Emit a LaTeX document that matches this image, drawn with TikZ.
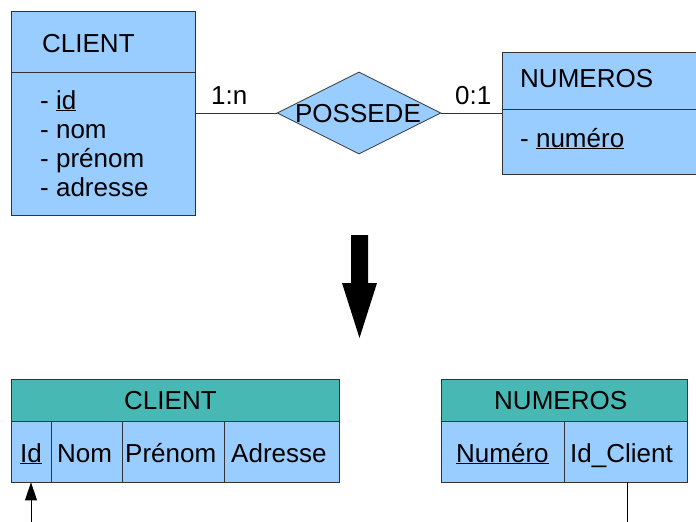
\documentclass[tikz,border=0pt]{standalone}
\usepackage{fontspec}
\setmainfont{Liberation Sans}
\usetikzlibrary{shapes.geometric,arrows.meta}
\definecolor{lblue}{HTML}{99CCFF}
\definecolor{teal2}{HTML}{48B8B4}
\definecolor{edge}{HTML}{333333}
\begin{document}
\begin{tikzpicture}[x=1pt,y=-1pt,
  txt/.style={inner sep=0pt,font=\fontsize{26}{31}\selectfont},
  box/.style={draw=edge,fill=lblue,line width=0.8pt,inner sep=0pt,rectangle},
  head/.style={draw=edge,fill=teal2,line width=0.8pt,inner sep=0pt,rectangle},
  conn/.style={draw=edge,line width=0.8pt}]
\clip (0,0) rectangle (696,522);
\fill[white] (0,0) rectangle (696,522);
% top entities
\node[box,minimum width=184pt,minimum height=204pt] (cl) at (103,113) {};
\draw[conn] (11,72) -- (195,72);
\node[txt,anchor=base west] (clt) at (42,52) {CLIENT};
\node[txt,anchor=base west] (a1) at (40,109) {- \underline{id}};
\node[txt,anchor=base west] (a2) at (40,138) {- nom};
\node[txt,anchor=base west] (a3) at (40,167) {- prénom};
\node[txt,anchor=base west] (a4) at (40,196) {- adresse};

\node[box,minimum width=200pt,minimum height=122pt] (nm) at (602,113) {};
\draw[conn] (502,109) -- (700,109);
\node[txt,anchor=base west] (nmt) at (520,87) {NUMEROS};
\node[txt,anchor=base west] (n1) at (520,147) {- \underline{numéro}};

\node[box,shape=diamond,minimum width=164pt,minimum height=82pt] (ps) at (359,113) {};
\node[txt,anchor=base] (pst) at (358,122) {POSSEDE};
\draw[conn] (cl.east) -- (ps.west);
\draw[conn] (ps.east) -- (nm.west);
\node[txt,anchor=base west] (c1) at (211,104) {1:n};
\node[txt,anchor=base west] (c2) at (455,104) {0:1};

% big arrow
\fill[black] (351,235) -- (368,235) -- (368,283) -- (377,283) -- (359.5,338) -- (342,283) -- (351,283) -- cycle;

% bottom tables
\node[head,minimum width=328pt,minimum height=42pt] (h1) at (175,400) {};
\node[txt,anchor=base west] at (124,409) {CLIENT};
\node[box,minimum width=40pt,minimum height=61pt] (cid) at (31,451.5) {};
\node[box,minimum width=71pt,minimum height=61pt] (cnom) at (86.5,451.5) {};
\node[box,minimum width=102pt,minimum height=61pt] (cpre) at (173,451.5) {};
\node[box,minimum width=115pt,minimum height=61pt] (cadr) at (281.5,451.5) {};
\node[txt,anchor=base west] at (20,462) {\underline{Id}};
\node[txt,anchor=base west] at (57,462) {Nom};
\node[txt,anchor=base west] at (125,462) {Prénom};
\node[txt,anchor=base west] at (231,462) {Adresse};

\node[head,minimum width=246pt,minimum height=42pt] (h2) at (564,400) {};
\node[txt,anchor=base west] at (494,409) {NUMEROS};
\node[box,minimum width=123pt,minimum height=61pt] (nnum) at (502.5,451.5) {};
\node[box,minimum width=123pt,minimum height=61pt] (nidc) at (625.5,451.5) {};
\node[txt,anchor=base west] at (456,462) {\underline{Numéro}};
\node[txt,anchor=base west] at (570,462) {Id\_Client};

\coordinate (ar) at (31,530);
\coordinate (lr) at (627,530);
\draw[line width=0.9pt,-{Triangle[width=12pt,length=18pt]}] (ar) -- (cid.south);
\draw[line width=0.9pt] (nidc.south -| lr) -- (lr);
\end{tikzpicture}
\end{document}
